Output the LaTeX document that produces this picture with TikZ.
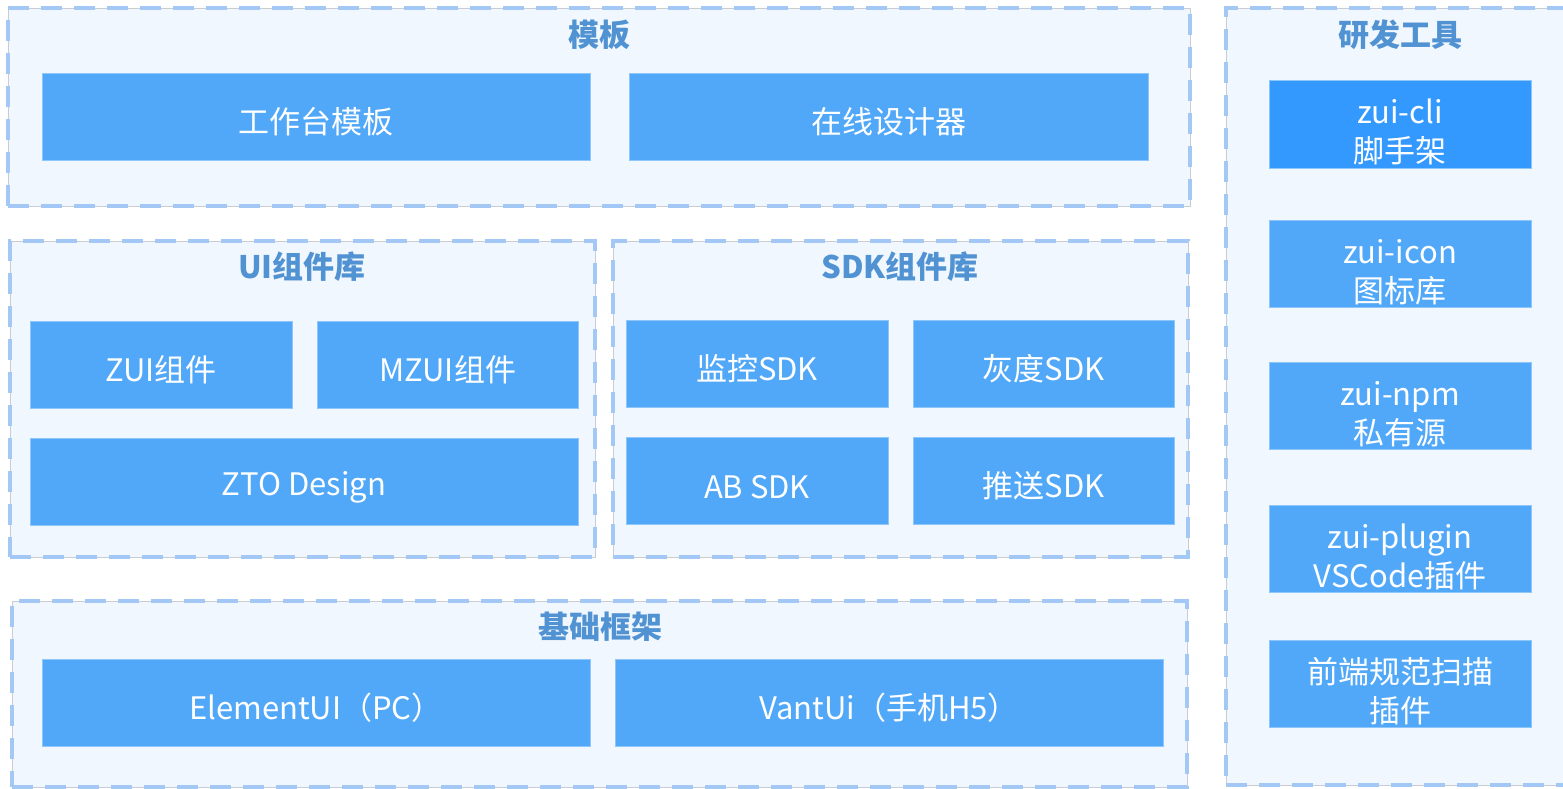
\documentclass[tikz,border=0pt]{standalone}
\usepackage{fontspec}
\setmainfont{Noto Sans CJK SC}
\usetikzlibrary{positioning}
\definecolor{zto-panel}{HTML}{F0F7FE}
\definecolor{zto-dash}{HTML}{A3C8F5}
\definecolor{zto-edge}{HTML}{C9CDD2}
\definecolor{zto-box}{HTML}{52A8F8}
\definecolor{zto-boxedge}{HTML}{8FC6FA}
\definecolor{zto-dark}{HTML}{3399FF}
\definecolor{zto-title}{HTML}{5192D3}

\tikzset{
  group/.style={draw=zto-edge, line width=0.7pt, fill=zto-panel, anchor=north west,
    inner sep=0pt, minimum width=#1,
    postaction={draw=zto-dash, line width=4pt, dash pattern=on 21pt off 12pt}},
  grouptitle/.style={text=zto-title, font=\fontsize{31}{34}\selectfont\bfseries},
  item/.style={draw=zto-boxedge, line width=0.8pt, fill=zto-box, text=white,
    inner sep=0pt, minimum height=87pt, minimum width=#1, align=center,
    text height=36pt, font=\fontsize{31}{39}\selectfont},
  item/.default=262pt,
  toolitem/.style={item, text height=80pt}
}

\begin{document}
\begin{tikzpicture}[x=1pt, y=-1pt]
\useasboundingbox (0,0) rectangle (1563,788);
\clip (0,0) rectangle (1563,788);
\fill[white] (0,0) rectangle (1563,788);
% groups
\node[group=1182pt, minimum height=198pt] (tpl) at (8,8) {};
\node[group=585pt, minimum height=316pt] (uilib) at (10,241) {};
\node[group=575pt, minimum height=316pt] (sdklib) at (613,241) {};
\node[group=1175pt, minimum height=186pt] (base) at (12,601) {};
\node[group=360pt, minimum height=777pt] (tools) at (1226,8) {};
\node[grouptitle] (tpl-title) at (599,35) {模板};
\node[grouptitle] (uilib-title) at (302,267) {UI组件库};
\node[grouptitle] (sdklib-title) at (900,267) {SDK组件库};
\node[grouptitle] (base-title) at (600,627) {基础框架};
\node[grouptitle] (tools-title) at (1400,35) {研发工具};
% templates
\node[item=548pt] (workbench) at (316,116.5) {工作台模板};
\node[item=519pt] (designer) at (888.5,116.5) {在线设计器};
% ui components
\node[item] (zui) at (161,364.5) {ZUI组件};
\node[item=261pt] (mzui) at (447.5,364.5) {MZUI组件};
\node[item=548pt] (ztodesign) at (304,481.5) {ZTO Design};
% sdk components
\node[item] (monitor) at (757,363.5) {监控SDK};
\node[item=261pt] (gray) at (1043.5,363.5) {灰度SDK};
\node[item] (absdk) at (757,480.5) {AB SDK};
\node[item=261pt] (push) at (1043.5,480.5) {推送SDK};
% base frameworks
\node[item=548pt] (element) at (316,702.5) {ElementUI（PC）};
\node[item=548pt] (vant) at (889,702.5) {VantUi（手机H5）};
% tools
\node[toolitem, fill=zto-dark, minimum height=88pt] (cli) at (1400,124) {zui-cli\\脚手架};
\node[toolitem] (icon) at (1400,263.5) {zui-icon\\图标库};
\node[toolitem] (npm) at (1400,405.5) {zui-npm\\私有源};
\node[toolitem] (plugin) at (1400,548.5) {zui-plugin\\VSCode插件};
\node[toolitem] (lint) at (1400,683.5) {前端规范扫描\\插件};
\end{tikzpicture}
\end{document}
